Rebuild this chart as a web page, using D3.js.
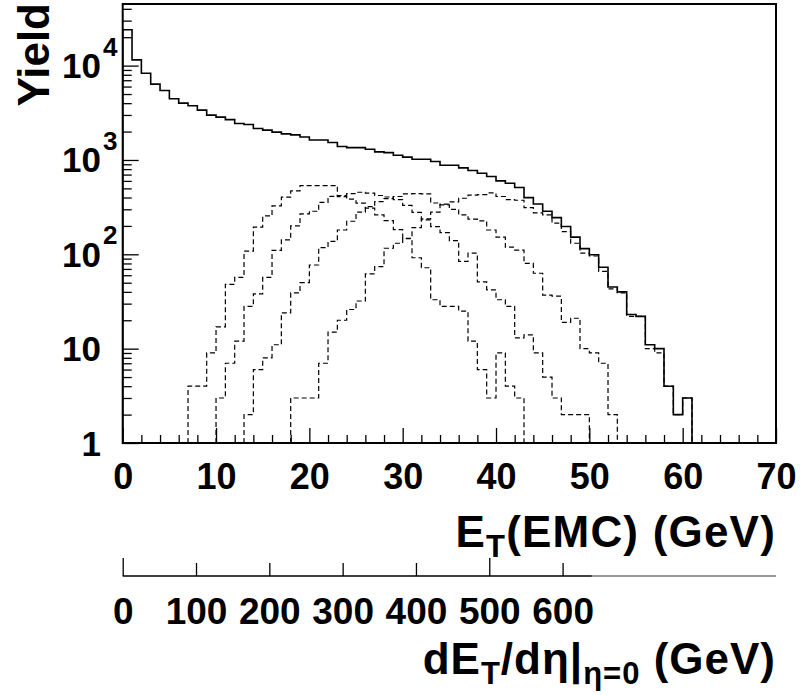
<!DOCTYPE html>
<html>
<head>
<meta charset="utf-8">
<script src="https://cdn.jsdelivr.net/npm/d3@7"></script>
<style>
  html, body { margin: 0; padding: 0; background: #fff; }
  svg { display: block; }
  text { font-family: "Liberation Sans", Arial, Helvetica, sans-serif; font-weight: bold; fill: #000; }
</style>
</head>
<body>
<svg id="chart" width="800" height="695"></svg>
<script>
// E_T(EMC) histograms, 1 GeV bins. Each series lists counts starting at its first filled bin.
const totalStart = 0;
const totalYield = [24000, 11500, 8300, 6370, 5440, 4450, 4000, 3750, 3375, 2985,
                    2843, 2680, 2432, 2373, 2153, 2070, 1971, 1892, 1846, 1750,
                    1630, 1630, 1530, 1387, 1353, 1353, 1300, 1218, 1197, 1124,
                    1071, 1019, 1019, 962, 880, 880, 825, 772, 724, 667,
                    600, 567, 510, 399, 342, 286, 245, 197, 152, 115,
                    99, 73, 45, 40, 23, 22, 11, 10, 4, 2, 3];

const class1Start = 7;
const class1Yield = [4, 4, 9, 17, 48, 57, 108, 194, 255, 326,
                     403, 470, 535, 535, 535, 535, 409, 384, 348, 308,
                     262, 228, 183, 147, 92, 72, 33, 28, 28, 25,
                     12, 6, 3, 9, 4, 3];

const class2Start = 10;
const class2Yield = [3, 7, 12, 28, 38, 57, 110, 142, 200, 268,
                     286, 355, 412, 420, 440, 455, 445, 420, 405, 380,
                     330, 278, 232, 197, 170, 140, 84, 103, 51, 42,
                     33, 28, 13, 14, 9, 5, 3, 2, 2, 2];

const class3Start = 13;
const class3Yield = [2, 6, 8, 11, 24, 39, 50, 77, 118, 137,
                     181, 224, 280, 320, 362, 390, 410, 437, 440, 437,
                     350, 334, 300, 262, 236, 226, 181, 152, 119, 111,
                     80, 63, 37, 36, 19, 21, 10, 9, 7, 2];

const class4Start = 18;
const class4Yield = [3, 3, 3, 7, 15, 20, 26, 32, 62, 74,
                     116, 131, 148, 192, 238, 280, 340, 360, 393, 425,
                     430, 448, 410, 380, 374, 312, 275, 262, 214, 174,
                     131, 103, 96, 66, 43, 39, 22, 22, 10, 9,
                     4, 2, 3];

// Axis tick values and labels
const etMajorTicks = [0, 10, 20, 30, 40, 50, 60, 70];
const etMinorTicks = [2, 4, 6, 8, 12, 14, 16, 18, 22, 24, 26, 28, 32, 34, 36, 38,
                      42, 44, 46, 48, 52, 54, 56, 58, 62, 64, 66, 68];
const yieldDecades = [1, 10, 100, 1000, 10000];
const yieldDecadeLabels = [["1", ""], ["10", ""], ["10", "2"], ["10", "3"], ["10", "4"]];
const yieldMinorTicks = [2, 3, 4, 5, 6, 7, 8, 9,
                         20, 30, 40, 50, 60, 70, 80, 90,
                         200, 300, 400, 500, 600, 700, 800, 900,
                         2000, 3000, 4000, 5000, 6000, 7000, 8000, 9000,
                         20000, 30000, 40000];
const detaFactor = 12.73;              // dE_T/deta|eta=0 per GeV of E_T(EMC)
const detaTicks = [0, 100, 200, 300, 400, 500, 600];
const detaPrimaryTicks = [0, 500];
const detaDarkEnd = 640;

const svg = d3.select("#chart");
const frameLeft = 122.7, frameRight = 776, frameTop = 4, frameBottom = 443;

const x = d3.scaleLinear().domain([0, 70]).range([frameLeft, frameRight]);
const y = d3.scaleLog().domain([1, 45000]).range([frameBottom, frameTop]);
const xDeta = d3.scaleLinear().domain([0, 70 * detaFactor]).range([frameLeft, frameRight]);

svg.append("rect").attr("width", 800).attr("height", 695).attr("fill", "#fff");

svg.append("defs").append("clipPath").attr("id", "frameClip")
  .append("rect").attr("x", frameLeft).attr("y", frameTop)
  .attr("width", frameRight - frameLeft).attr("height", frameBottom - frameTop);

// Step outline of a histogram, closed down to the lower edge at both ends
function histPoints(start, vals) {
  const pts = [[x(start), y(1)]];
  vals.forEach((v, i) => {
    pts.push([x(start + i), y(v)]);
    pts.push([x(start + i + 1), y(v)]);
  });
  pts.push([x(start + vals.length), y(1)]);
  return pts;
}
const line = d3.line();
const plot = svg.append("g").attr("clip-path", "url(#frameClip)");

const classes = [[class1Start, class1Yield], [class2Start, class2Yield],
                 [class3Start, class3Yield], [class4Start, class4Yield]];
classes.forEach(([s, v]) => {
  plot.append("path").attr("d", line(histPoints(s, v)))
    .attr("fill", "none").attr("stroke", "#000").attr("stroke-width", 1.2)
    .attr("stroke-dasharray", "5,3");
});
plot.append("path").attr("d", line(histPoints(totalStart, totalYield)))
  .attr("fill", "none").attr("stroke", "#000").attr("stroke-width", 1.6);

// Bottom axis ticks (pointing into the frame)
function styleAxis(g) {
  g.select(".domain").remove();
  g.selectAll(".tick line").attr("stroke", "#000").attr("stroke-width", 1.3);
}
svg.append("g").attr("transform", `translate(0,${frameBottom})`)
  .call(d3.axisBottom(x).tickValues(etMinorTicks).tickSize(-8).tickFormat(""))
  .call(styleAxis);
const xMajor = svg.append("g").attr("transform", `translate(0,${frameBottom})`)
  .call(d3.axisBottom(x).tickValues(etMajorTicks).tickSize(-15).tickPadding(20).tickFormat(d3.format("d")))
  .call(styleAxis);
xMajor.selectAll(".tick text").attr("font-size", 36).attr("font-family", null).attr("font-weight", "bold");

// Left axis ticks
svg.append("g").attr("transform", `translate(${frameLeft},0)`)
  .call(d3.axisLeft(y).tickValues(yieldMinorTicks).tickSize(-9).tickFormat(""))
  .call(styleAxis);
svg.append("g").attr("transform", `translate(${frameLeft},0)`)
  .call(d3.axisLeft(y).tickValues(yieldDecades).tickSize(-16).tickFormat(""))
  .call(styleAxis);

// Decade labels with exponents
yieldDecades.forEach((d, i) => {
  const [base, expo] = yieldDecadeLabels[i];
  svg.append("text").attr("x", 101).attr("y", y(d) + 12.5)
    .attr("text-anchor", "end").attr("font-size", 35).text(base);
  if (expo) {
    svg.append("text").attr("x", 103).attr("y", y(d) - 10)
      .attr("font-size", 26).text(expo);
  }
});

// Frame
svg.append("rect").attr("x", frameLeft).attr("y", frameTop)
  .attr("width", frameRight - frameLeft).attr("height", frameBottom - frameTop)
  .attr("fill", "none").attr("stroke", "#000").attr("stroke-width", 2);

// Axis titles
svg.append("text").attr("transform", `translate(49,${frameTop - 1}) rotate(-90)`)
  .attr("text-anchor", "end").attr("font-size", 44).text("Yield");

const tx = svg.append("text").attr("x", frameRight).attr("y", 547)
  .attr("text-anchor", "end").attr("font-size", 44).attr("letter-spacing", 1.2);
tx.append("tspan").text("E");
tx.append("tspan").attr("font-size", 31).attr("dy", 10).text("T");
tx.append("tspan").attr("dy", -10).text("(EMC) (GeV)");

// Secondary dE_T/deta scale
const axisY = 576;
svg.append("line").attr("x1", xDeta(0)).attr("x2", xDeta(detaDarkEnd))
  .attr("y1", axisY).attr("y2", axisY).attr("stroke", "#000").attr("stroke-width", 1.3);
svg.append("line").attr("x1", xDeta(detaDarkEnd)).attr("x2", frameRight)
  .attr("y1", axisY).attr("y2", axisY).attr("stroke", "#777").attr("stroke-width", 1.3);
const secAxis = svg.append("g").attr("transform", `translate(0,${axisY})`)
  .call(d3.axisBottom(xDeta).tickValues(detaTicks)
    .tickSize(-13).tickPadding(22).tickFormat(d3.format("d")))
  .call(styleAxis);
secAxis.selectAll(".tick line")
  .attr("y2", d => detaPrimaryTicks.includes(d) ? -18 : -13);
secAxis.selectAll(".tick text").attr("font-size", 37).attr("font-family", null).attr("font-weight", "bold");

const t2 = svg.append("text").attr("x", frameRight).attr("y", 674)
  .attr("text-anchor", "end").attr("font-size", 44).attr("letter-spacing", 1);
t2.append("tspan").text("dE");
t2.append("tspan").attr("font-size", 31).attr("dy", 10).text("T");
t2.append("tspan").attr("dy", -10).text("/d\u03B7|");
t2.append("tspan").attr("font-size", 31).attr("dy", 10).text("\u03B7=0");
t2.append("tspan").attr("dy", -10).text(" (GeV)");
</script>
</body>
</html>
